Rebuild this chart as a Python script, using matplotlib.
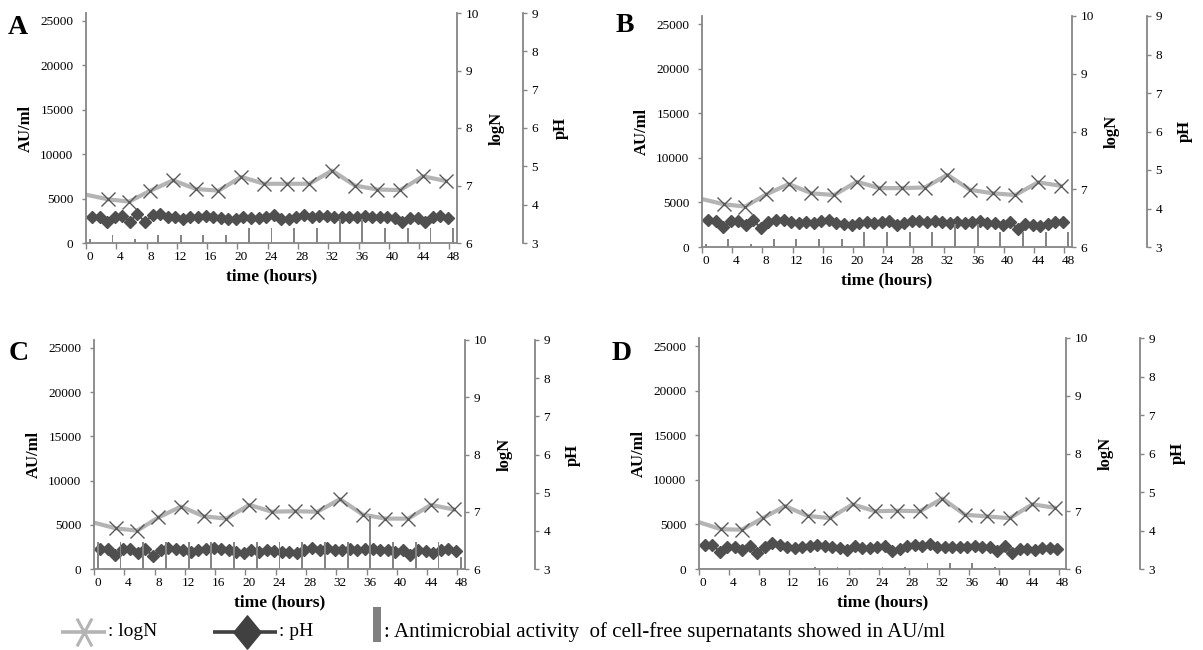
import numpy as np
import matplotlib
matplotlib.use('Agg')
import matplotlib.pyplot as plt
from matplotlib.path import Path
from matplotlib.patches import Rectangle

plt.rcParams['font.family'] = ['Liberation Serif', 'DejaVu Serif']

W, H = 1203, 650

# sampling times (hours)
BAR_HOURS = [0, 3, 6, 9, 12, 15, 18, 21, 24, 27, 30, 33, 36, 39, 42, 45, 48]
LOGN_HOURS = [-0.5, 2.4, 5.2, 8, 11, 14, 17, 20, 23, 26, 29, 32, 35, 38, 41, 44, 47]
PH_HOURS = np.arange(48) + 0.3

# antimicrobial activity (AU/ml)
au_A = [450, 850, 450, 850, 850, 850, 850, 1700, 1700, 1700, 1700, 2650, 2650, 1700, 1700, 1700, 1700]
au_B = [380, 860, 380, 860, 860, 860, 860, 1690, 1690, 1690, 1690, 2630, 2630, 1690, 1690, 1690, 1690]
au_C = [3100, 3100, 3100, 3100, 3100, 3100, 3100, 3100, 3100, 3100, 3100, 3100, 6050, 3100, 3100, 3100, 1400]
au_D = [0, 0, 0, 0, 0, 250, 250, 150, 250, 250, 650, 700, 700, 250, 0, 0, 0]

# logN
logn_A = [6.84, 6.76, 6.72, 6.91, 7.09, 6.94, 6.91, 7.15, 7.03, 7.03, 7.03, 7.26, 7.00, 6.93, 6.92, 7.16, 7.08]
logn_B = [6.83, 6.74, 6.70, 6.91, 7.09, 6.93, 6.90, 7.13, 7.02, 7.02, 7.03, 7.25, 6.99, 6.93, 6.90, 7.12, 7.06]
logn_C = [6.81, 6.71, 6.67, 6.90, 7.09, 6.92, 6.88, 7.12, 7.00, 7.01, 7.00, 7.22, 6.95, 6.88, 6.88, 7.12, 7.04]
logn_D = [6.81, 6.69, 6.68, 6.88, 7.09, 6.92, 6.88, 7.12, 7.00, 7.01, 7.00, 7.22, 6.94, 6.91, 6.88, 7.12, 7.06]

# pH
ph_A = [3.69, 3.69, 3.54, 3.69, 3.71, 3.56, 3.76, 3.54, 3.74, 3.75, 3.69, 3.67, 3.62, 3.67, 3.69, 3.71,
        3.69, 3.65, 3.62, 3.62, 3.69, 3.65, 3.65, 3.69, 3.74, 3.62, 3.62, 3.69, 3.74, 3.69, 3.71, 3.71,
        3.69, 3.67, 3.67, 3.69, 3.71, 3.69, 3.67, 3.67, 3.65, 3.54, 3.65, 3.65, 3.56, 3.67, 3.71, 3.65]
ph_B = [3.69, 3.67, 3.52, 3.67, 3.67, 3.56, 3.69, 3.49, 3.65, 3.69, 3.69, 3.65, 3.63, 3.65, 3.63, 3.67,
        3.69, 3.63, 3.61, 3.58, 3.63, 3.65, 3.63, 3.65, 3.67, 3.58, 3.63, 3.67, 3.67, 3.65, 3.67, 3.65,
        3.63, 3.65, 3.63, 3.65, 3.67, 3.63, 3.63, 3.58, 3.65, 3.48, 3.61, 3.58, 3.54, 3.61, 3.65, 3.65]
ph_C = [3.52, 3.52, 3.36, 3.52, 3.52, 3.41, 3.52, 3.34, 3.49, 3.56, 3.52, 3.49, 3.45, 3.49, 3.52, 3.55,
        3.52, 3.49, 3.45, 3.42, 3.49, 3.45, 3.49, 3.48, 3.45, 3.45, 3.42, 3.49, 3.54, 3.49, 3.56, 3.49,
        3.49, 3.52, 3.49, 3.52, 3.52, 3.49, 3.49, 3.45, 3.49, 3.36, 3.49, 3.48, 3.42, 3.49, 3.52, 3.48]
ph_D = [3.62, 3.62, 3.45, 3.56, 3.56, 3.49, 3.60, 3.42, 3.58, 3.67, 3.62, 3.58, 3.54, 3.58, 3.60, 3.62,
        3.60, 3.56, 3.54, 3.49, 3.60, 3.54, 3.54, 3.56, 3.60, 3.48, 3.51, 3.60, 3.62, 3.60, 3.65, 3.58,
        3.58, 3.56, 3.56, 3.58, 3.60, 3.58, 3.58, 3.48, 3.60, 3.42, 3.51, 3.51, 3.49, 3.54, 3.54, 3.52]

AXIS_GRAY = '#868686'
BAR_GRAY = '#858585'
LINE_GRAY = '#b4b4b4'
MARK_GRAY = '#5a5a5a'
PH_DARK = '#4f4f4f'
TICK_FS = 9.5
LABEL_FS = 12

fig = plt.figure(figsize=(W / 100, H / 100), dpi=100)


def style_yaxis(a, side):
    a.tick_params(axis='y', which='both', direction='out', length=3, width=1,
                  color=AXIS_GRAY, labelsize=TICK_FS, pad=6 if side == 'left' else 3)


def draw_panel(letter, box, ph_x, letter_xy, au, logn, ph):
    left, top, right, bottom = box
    w, h = right - left, bottom - top
    ax = fig.add_axes([left / W, 1 - bottom / H, w / W, h / H])
    ax_n = ax.twinx()
    ax_p = ax.twinx()

    # bars on top of the other series
    ax.set_zorder(ax_p.get_zorder() + 1)
    ax.patch.set_visible(False)

    ax.bar(BAR_HOURS, au, width=0.25, color=BAR_GRAY, linewidth=0)
    ax_n.plot(LOGN_HOURS, logn, color=LINE_GRAY, lw=3, marker='x', ms=9.5,
              mec=MARK_GRAY, mew=1.0, markevery=list(range(1, len(logn))))
    ax_p.plot(PH_HOURS, ph, color=PH_DARK, lw=1.5, marker='D', ms=6.3,
              mfc=PH_DARK, mec=PH_DARK)

    ax.set_xlim(-0.5, 48.5)
    ax.set_ylim(0, 25900)
    ax.set_yticks(range(0, 25001, 5000))
    ax_n.set_ylim(6, 10)
    ax_n.set_yticks(range(6, 11))
    ax_p.set_ylim(3, 9)
    ax_p.set_yticks(range(3, 10))

    ax.set_xticks(range(0, 49, 4))
    ax.set_xticks(np.arange(-0.5, 48, 4), minor=True)
    ax.tick_params(axis='x', which='major', length=0, labelsize=TICK_FS, pad=6)
    ax.tick_params(axis='x', which='minor', direction='out', length=4, width=1, color=AXIS_GRAY)

    for a in (ax, ax_n, ax_p):
        for s in a.spines.values():
            s.set_visible(False)
            s.set_color(AXIS_GRAY)
            s.set_linewidth(1.3)
    ax.spines['left'].set_visible(True)
    ax.spines['bottom'].set_visible(True)
    ax_n.spines['right'].set_visible(True)
    ax_p.spines['right'].set_visible(True)
    ax_p.spines['right'].set_position(('axes', (ph_x - left) / w))

    style_yaxis(ax, 'left')
    style_yaxis(ax_n, 'right')
    style_yaxis(ax_p, 'right')

    ax.text(0.5, -33 / h, 'time (hours)', transform=ax.transAxes, ha='center', va='center',
            fontsize=LABEL_FS + 0.5, fontweight='bold')
    ax.text(-60 / w, 0.5, 'AU/ml', transform=ax.transAxes, ha='center', va='center',
            rotation=90, fontsize=LABEL_FS, fontweight='bold')
    ax.text(1 + 40 / w, 0.5, 'logN', transform=ax.transAxes, ha='center', va='center',
            rotation=90, fontsize=LABEL_FS, fontweight='bold')
    ax.text((ph_x - left + 38) / w, 0.5, 'pH', transform=ax.transAxes, ha='center', va='center',
            rotation=90, fontsize=LABEL_FS, fontweight='bold')
    fig.text(letter_xy[0] / W, 1 - letter_xy[1] / H, letter, ha='center', va='center',
             fontsize=20, fontweight='bold')
    return ax


draw_panel('A', (86, 13, 457, 243), 523, (18, 28), au_A, logn_A, ph_A)
draw_panel('B', (702, 16, 1072, 247), 1147, (625, 25), au_B, logn_B, ph_B)
draw_panel('C', (94, 340, 465, 569), 535, (19, 353), au_C, logn_C, ph_C)
draw_panel('D', (699, 338, 1066, 569), 1140, (622, 354), au_D, logn_D, ph_D)

# legend drawn in pixel space
ov = fig.add_axes([0, 0, 1, 1])
ov.set_xlim(0, W)
ov.set_ylim(H, 0)
ov.axis('off')

tall_x = Path([(-0.27, -0.5), (0.27, 0.5), (0.27, -0.5), (-0.27, 0.5)],
              [Path.MOVETO, Path.LINETO, Path.MOVETO, Path.LINETO])
tall_d = Path([(0, 0.5), (0.41, 0), (0, -0.5), (-0.41, 0), (0, 0.5)],
              [Path.MOVETO, Path.LINETO, Path.LINETO, Path.LINETO, Path.CLOSEPOLY])

ov.plot([61, 106], [632, 632], color=LINE_GRAY, lw=2.6, solid_capstyle='butt')
ov.plot([83.5], [632], marker=tall_x, ms=20, mec=LINE_GRAY, mew=2.2, ls='none')
ov.text(108, 632, ': logN', fontsize=14, va='center', ha='left')

ov.plot([213, 277], [632, 632], color='#404040', lw=2.6, solid_capstyle='butt')
ov.plot([247], [632], marker=tall_d, ms=24, mfc='#404040', mec='#404040', ls='none')
ov.text(279, 632, ': pH', fontsize=14, va='center', ha='left')

ov.add_patch(Rectangle((373, 607), 8, 35, color='#808080', lw=0))
ov.text(384, 632, ': Antimicrobial activity  of cell-free supernatants showed in AU/ml',
        fontsize=15, va='center', ha='left')

fig.savefig('out.png', dpi=100)
